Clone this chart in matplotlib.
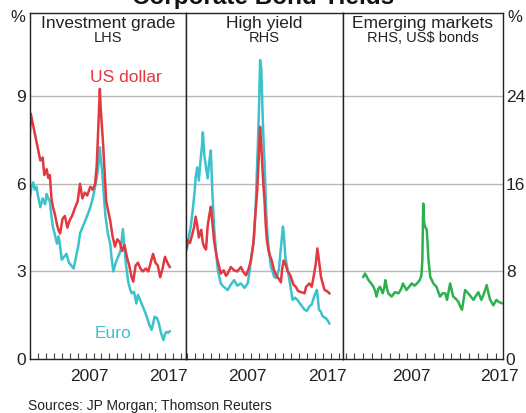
import matplotlib
matplotlib.use('AGG')
import matplotlib.pyplot as plt
from matplotlib.ticker import MultipleLocator, FixedLocator

plt.rcParams['font.family'] = ['Liberation Sans', 'DejaVu Sans']

# ---- data ----
# Investment grade, LHS (%)
ig_usd_t = [2000.0, 2000.1, 2000.4, 2000.7, 2001.0, 2001.3, 2001.6, 2001.8, 2002.1, 2002.3,
            2002.5, 2002.7, 2002.9, 2003.1, 2003.4, 2003.6, 2003.8, 2004.1, 2004.4, 2004.7,
            2005.0, 2005.3, 2005.7, 2006.0, 2006.3, 2006.6, 2006.9, 2007.2, 2007.6, 2007.9,
            2008.2, 2008.4, 2008.6, 2008.8, 2008.9, 2009.0, 2009.2, 2009.4, 2009.6, 2009.9,
            2010.1, 2010.4, 2010.7, 2011.0, 2011.3, 2011.6, 2011.9, 2012.2, 2012.5, 2012.8,
            2013.0, 2013.3, 2013.6, 2013.9, 2014.2, 2014.6, 2014.9, 2015.2, 2015.5, 2015.8,
            2016.1, 2016.4, 2016.7, 2017.0, 2017.3, 2017.6]
ig_usd = [7.8, 8.4, 8.0, 7.6, 7.2, 6.8, 6.9, 6.3, 6.5, 6.2,
          6.3, 5.5, 5.2, 5.0, 4.6, 4.4, 4.3, 4.8, 4.9, 4.5,
          4.75, 4.9, 5.2, 5.4, 6.0, 5.5, 5.7, 5.6, 5.9, 5.8,
          6.0, 6.6, 7.9, 9.25, 8.6, 8.2, 7.4, 6.4, 5.4, 5.0,
          4.75, 4.2, 3.85, 4.1, 4.0, 3.7, 3.9, 3.5, 3.2, 2.8,
          2.65, 3.2, 3.3, 3.1, 3.0, 3.1, 3.0, 3.3, 3.6, 3.3,
          3.2, 2.8, 3.1, 3.5, 3.3, 3.15]

ig_eur_t = [2000.0, 2000.2, 2000.4, 2000.6, 2000.8, 2001.0, 2001.3, 2001.6, 2001.9, 2002.1,
            2002.3, 2002.5, 2002.7, 2002.9, 2003.1, 2003.4, 2003.6, 2003.8, 2004.0, 2004.3,
            2004.6, 2004.9, 2005.2, 2005.5, 2005.8, 2006.1, 2006.3, 2006.6, 2006.9, 2007.2,
            2007.6, 2007.9, 2008.2, 2008.4, 2008.6, 2008.8, 2008.9, 2009.1, 2009.3, 2009.5,
            2009.8, 2010.1, 2010.3, 2010.5, 2010.8, 2011.1, 2011.4, 2011.7, 2011.9, 2012.1,
            2012.4, 2012.6, 2012.8, 2013.1, 2013.4, 2013.6, 2013.9, 2014.2, 2014.5, 2014.7,
            2015.0, 2015.3, 2015.5, 2015.7, 2016.0, 2016.2, 2016.5, 2016.8, 2017.0, 2017.2,
            2017.4, 2017.6]
ig_eur = [5.55, 5.9, 6.05, 5.8, 5.9, 5.6, 5.2, 5.5, 5.3, 5.65,
          5.5, 5.4, 4.9, 4.5, 4.3, 3.95, 4.2, 3.85, 3.4, 3.5,
          3.6, 3.3, 3.2, 3.1, 3.5, 3.9, 4.3, 4.5, 4.7, 4.9,
          5.2, 5.5, 5.9, 6.2, 6.6, 7.25, 6.9, 6.4, 5.6, 4.9,
          4.3, 3.95, 3.4, 3.0, 3.3, 3.5, 3.7, 4.45, 3.8, 3.2,
          2.6, 2.4, 2.25, 2.3, 1.9, 2.2, 2.0, 1.8, 1.6, 1.45,
          1.2, 1.0, 1.2, 1.45, 1.4, 1.25, 0.9, 0.65, 0.85, 0.93,
          0.9, 0.95]

# High yield, RHS (%)
hy_usd_t = [2000.0, 2000.1, 2000.4, 2000.7, 2000.9, 2001.1, 2001.3, 2001.5, 2001.8, 2002.0,
            2002.2, 2002.4, 2002.6, 2002.8, 2003.0, 2003.2, 2003.4, 2003.6, 2003.75, 2003.9,
            2004.25, 2004.6, 2004.9, 2005.1, 2005.5, 2005.9, 2006.3, 2006.75, 2007.1, 2007.4,
            2007.7, 2008.0, 2008.3, 2008.6, 2008.8, 2009.0, 2009.15, 2009.3, 2009.4, 2009.55,
            2009.7, 2009.85, 2010.0, 2010.2, 2010.4, 2010.6, 2010.9, 2011.2, 2011.5, 2011.75,
            2011.9, 2012.1, 2012.3, 2012.6, 2012.8, 2013.0, 2013.3, 2013.6, 2013.9, 2014.3,
            2014.7, 2014.9, 2015.3, 2015.6, 2015.9, 2016.1, 2016.3, 2016.5, 2016.75, 2017.0,
            2017.2, 2017.5, 2017.8]
hy_usd = [10.2, 10.85, 10.6, 11.45, 12.0, 13.0, 12.2, 11.1, 11.8, 10.6,
          10.2, 10.0, 12.1, 13.1, 13.9, 12.4, 10.85, 9.9, 9.3, 8.8,
          7.8, 8.1, 7.6, 7.8, 8.4, 8.1, 8.0, 8.4, 7.9, 7.65,
          8.2, 9.0, 10.5, 13.6, 15.5, 18.75, 21.2, 19.5, 18.1, 16.0,
          14.5, 12.3, 10.85, 9.9, 9.4, 9.0, 8.1, 7.6, 7.3, 7.0,
          8.2, 9.0, 8.7, 8.0, 7.8, 7.5, 6.8, 6.6, 6.2, 6.1,
          6.0, 6.6, 6.9, 6.6, 7.8, 8.7, 10.1, 9.0, 7.5, 6.8,
          6.3, 6.2, 6.0]

hy_eur_t = [2000.0, 2000.2, 2000.5, 2000.8, 2001.0, 2001.1, 2001.3, 2001.5, 2001.7, 2001.9,
            2002.0, 2002.2, 2002.4, 2002.6, 2002.8, 2003.0, 2003.1, 2003.2, 2003.4, 2003.6,
            2003.75, 2003.9, 2004.25, 2004.6, 2005.1, 2005.5, 2005.9, 2006.3, 2006.75, 2007.2,
            2007.6, 2007.8, 2008.0, 2008.2, 2008.4, 2008.6, 2008.8, 2009.0, 2009.15, 2009.3,
            2009.45, 2009.6, 2009.7, 2009.9, 2010.1, 2010.3, 2010.5, 2010.7, 2010.9, 2011.2,
            2011.5, 2011.75, 2012.0, 2012.1, 2012.3, 2012.6, 2012.9, 2013.2, 2013.5, 2013.8,
            2014.2, 2014.7, 2015.0, 2015.3, 2015.6, 2015.9, 2016.1, 2016.25, 2016.5, 2016.75,
            2016.95, 2017.2, 2017.4, 2017.6, 2017.8]
hy_eur = [10.0, 11.0, 12.1, 14.0, 15.5, 16.6, 17.5, 16.3, 18.0, 19.5,
          20.7, 18.5, 17.5, 16.5, 18.0, 19.05, 17.0, 15.1, 12.1, 10.2,
          9.0, 8.0, 6.9, 6.6, 6.3, 6.8, 7.2, 6.7, 6.9, 6.5,
          6.9, 7.8, 9.0, 10.0, 11.1, 14.0, 18.1, 22.5, 27.3, 26.5,
          22.7, 19.5, 18.1, 13.6, 11.0, 9.65, 8.4, 8.0, 7.5, 7.4,
          8.2, 10.2, 12.1, 11.5, 9.3, 8.1, 6.8, 5.4, 5.6, 5.4,
          5.0, 4.5, 4.4, 4.8, 5.0, 5.7, 6.1, 6.3, 4.5, 4.3,
          3.9, 3.8, 3.7, 3.5, 3.25]

# Emerging markets, RHS, US$ bonds (%)
em_t = [2002.0, 2002.2, 2002.4, 2002.6, 2002.9, 2003.15, 2003.35, 2003.5, 2003.7, 2003.9,
        2004.2, 2004.4, 2004.5, 2004.7, 2004.85, 2005.2, 2005.6, 2006.0, 2006.3, 2006.5,
        2006.9, 2007.2, 2007.5, 2007.8, 2008.1, 2008.4, 2008.6, 2008.7, 2008.8, 2008.9,
        2009.0, 2009.2, 2009.3, 2009.4, 2009.6, 2009.95, 2010.3, 2010.7, 2011.0, 2011.3,
        2011.5, 2011.85, 2012.2, 2012.5, 2012.8, 2013.0, 2013.2, 2013.55, 2013.9, 2014.2,
        2014.5, 2014.8, 2015.05, 2015.4, 2015.7, 2016.0, 2016.2, 2016.4, 2016.75, 2017.1,
        2017.4, 2017.7]
em = [7.5, 7.8, 7.5, 7.2, 6.9, 6.6, 6.2, 5.7, 6.4, 6.6,
      6.0, 6.6, 7.2, 6.4, 6.0, 5.7, 6.1, 6.0, 6.4, 6.9,
      6.3, 6.6, 6.9, 6.7, 6.9, 7.2, 7.65, 9.0, 14.2, 12.5,
      12.1, 11.8, 10.5, 9.0, 7.5, 6.9, 6.6, 5.7, 6.0, 6.0,
      5.4, 6.9, 5.7, 5.5, 5.2, 4.8, 4.5, 6.3, 6.0, 5.7,
      5.4, 5.8, 6.1, 5.4, 6.0, 6.75, 6.0, 5.4, 4.9, 5.4,
      5.2, 5.1]

lhs_ticks = [0, 3, 6, 9]
rhs_ticks = [0, 8, 16, 24]
year_labels = ['2007', '2017']

RED = '#e2383f'
CYAN = '#3bc2cc'
GREEN = '#2db14f'
GRID = '#b8b8b8'

# ---- figure ----
W, H = 526, 413
fig = plt.figure(figsize=(W / 100, H / 100), dpi=100)

top_px, bot_px = 13, 359
edges = [30, 186, 343, 503]
xlims = [(2000.0, 2019.65), (1999.9, 2019.5), (1999.7, 2017.85)]
lhs_top = 11.85
rhs_top = lhs_top * 8 / 3

axes = []
for i in range(3):
    ax = fig.add_axes([edges[i] / W, (H - bot_px) / H,
                       (edges[i + 1] - edges[i]) / W, (bot_px - top_px) / H])
    ax.set_xlim(*xlims[i])
    for s in ax.spines.values():
        s.set_color('#222222')
        s.set_linewidth(1.0)
    ax.xaxis.set_major_locator(FixedLocator([2007.5, 2017.5]))
    ax.set_xticklabels(year_labels)
    ax.xaxis.set_minor_locator(MultipleLocator(1))
    ax.tick_params(axis='x', which='major', length=0, pad=7, labelsize=12.5,
                   colors='#222222')
    ax.tick_params(axis='x', which='minor', direction='in', length=4,
                   width=0.8, color='#444444')
    ax.tick_params(axis='y', which='both', length=0)
    axes.append(ax)

ax1, ax2, ax3 = axes

# grid lines (3, 6, 9 on LHS == 8, 16, 24 on RHS)
ax1.set_ylim(0, lhs_top)
for g in lhs_ticks[1:]:
    ax1.axhline(g, color=GRID, lw=1.0, zorder=0)
for ax in (ax2, ax3):
    ax.set_ylim(0, rhs_top)
    for g in rhs_ticks[1:]:
        ax.axhline(g, color=GRID, lw=1.0, zorder=0)

ax1.set_yticks(lhs_ticks)
ax1.tick_params(axis='y', labelsize=12.5, pad=3, colors='#222222')
ax2.set_yticks([])
ax3.set_yticks(rhs_ticks)
ax3.yaxis.tick_right()
ax3.tick_params(axis='y', labelsize=12.5, pad=2, colors='#222222', length=0)

# lines
ax1.plot(ig_eur_t, ig_eur, color=CYAN, lw=1.8)
ax1.plot(ig_usd_t, ig_usd, color=RED, lw=1.8)
ax2.plot(hy_eur_t, hy_eur, color=CYAN, lw=1.8)
ax2.plot(hy_usd_t, hy_usd, color=RED, lw=1.8)
ax3.plot(em_t, em, color=GREEN, lw=1.8)

# panel titles
titles = [('Investment grade', 'LHS'), ('High yield', 'RHS'),
          ('Emerging markets', 'RHS, US$ bonds')]
for ax, (t1, t2) in zip(axes, titles):
    ax.text(0.5, 0.958, t1, transform=ax.transAxes, ha='center', va='baseline',
            fontsize=12.5, color='#222222')
    ax.text(0.5, 0.917, t2, transform=ax.transAxes, ha='center', va='baseline',
            fontsize=10.5, color='#222222')

ax1.text(2012.1, 9.64, 'US dollar', color=RED, fontsize=12.5, ha='center', va='center')
ax1.text(2010.45, 0.89, 'Euro', color=CYAN, fontsize=12.5, ha='center', va='center')

fig.text(18 / W, 1 - 18 / H, '%', fontsize=12, ha='center', va='center', color='#222222')
fig.text(515 / W, 1 - 18 / H, '%', fontsize=12, ha='center', va='center', color='#222222')
fig.text(0.5, 1 - 4 / H, 'Corporate Bond Yields', fontsize=17.5, fontweight='bold',
         ha='center', va='baseline', color='#111111')
fig.text(28 / W, 7 / H, 'Sources: JP Morgan; Thomson Reuters', fontsize=10,
         ha='left', va='center', color='#222222')

fig.savefig('out.png', dpi=100)
